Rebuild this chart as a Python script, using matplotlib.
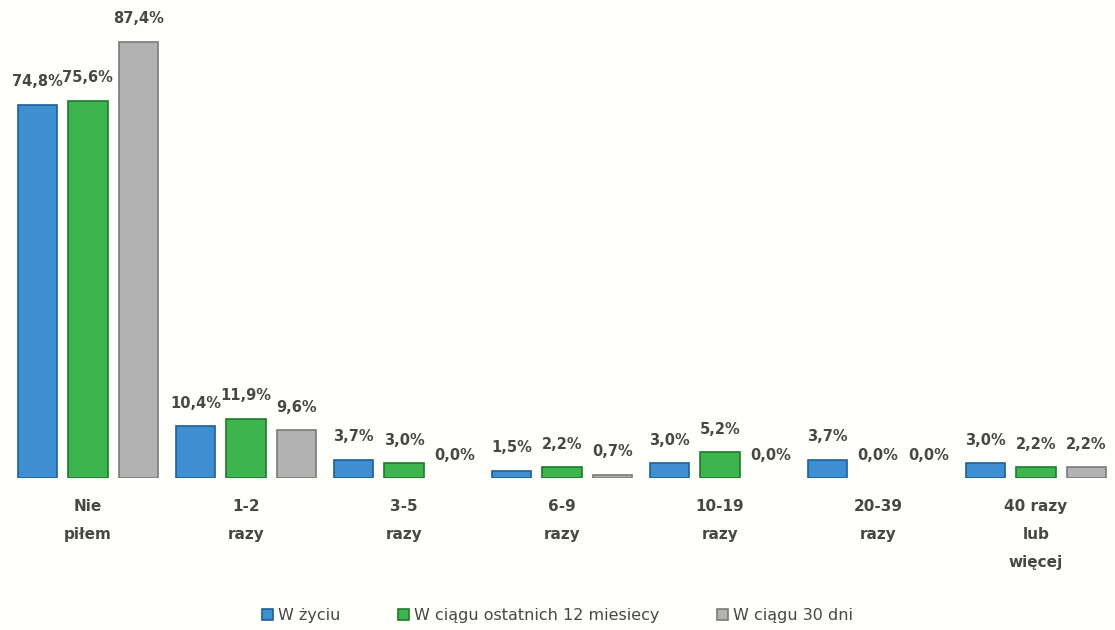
import matplotlib
matplotlib.use("Agg")
import matplotlib.pyplot as plt
import numpy as np

categories = ["Nie\npiłem", "1-2\nrazy", "3-5\nrazy", "6-9\nrazy", "10-19\nrazy", "20-39\nrazy", "40 razy\nlub\nwięcej"]
series_names = ["W życiu", "W ciągu ostatnich 12 miesiecy", "W ciągu 30 dni"]
w_zyciu = [74.8, 10.4, 3.7, 1.5, 3.0, 3.7, 3.0]
w_12_mies = [75.6, 11.9, 3.0, 2.2, 5.2, 0.0, 2.2]
w_30_dni = [87.4, 9.6, 0.0, 0.7, 0.0, 0.0, 2.2]

colors = ["#3d8fd1", "#3db54c", "#b2b2b2"]
edges = ["#1f5f96", "#1f7a2c", "#7a7a7a"]
txt = "#474747"

fig = plt.figure(figsize=(11.15, 6.3), dpi=100, facecolor="#fefefa")
ax = fig.add_axes([0.008, 0.241, 0.992, 0.753])
ax.set_facecolor("#fefefa")

x = np.arange(len(categories))
offsets = [-0.32, 0.0, 0.32]
width = 0.25
for vals, off, c, ec, name in zip([w_zyciu, w_12_mies, w_30_dni], offsets, colors, edges, series_names):
    bars = ax.bar(x + off, vals, width, color=c, edgecolor=ec, linewidth=1.2, label=name)
    for b, v in zip(bars, vals):
        if v == 0:
            b.set_visible(False)
        ax.annotate(f"{v:.1f}%".replace(".", ","), (b.get_x() + b.get_width() / 2, v),
                    xytext=(0, 11), textcoords="offset points", ha="center", va="bottom",
                    fontsize=10.5, fontweight="bold", color=txt)

ax.set_xlim(-0.5, len(categories) - 0.5)
ax.set_ylim(0, 95)
ax.set_xticks(x)
ax.set_xticklabels(categories, fontsize=11, fontweight="bold", color=txt, linespacing=2.1)
ax.tick_params(axis="x", length=0, pad=15)
ax.set_yticks([])
for s in ax.spines.values():
    s.set_visible(False)

fig.legend(loc="lower center", ncol=3, frameon=False, fontsize=11.5, labelcolor=txt,
           handlelength=0.7, handleheight=0.7, handletextpad=0.3, columnspacing=3.6,
           bbox_to_anchor=(0.5, -0.012))

fig.savefig("out.png", dpi=100, facecolor=fig.get_facecolor())
